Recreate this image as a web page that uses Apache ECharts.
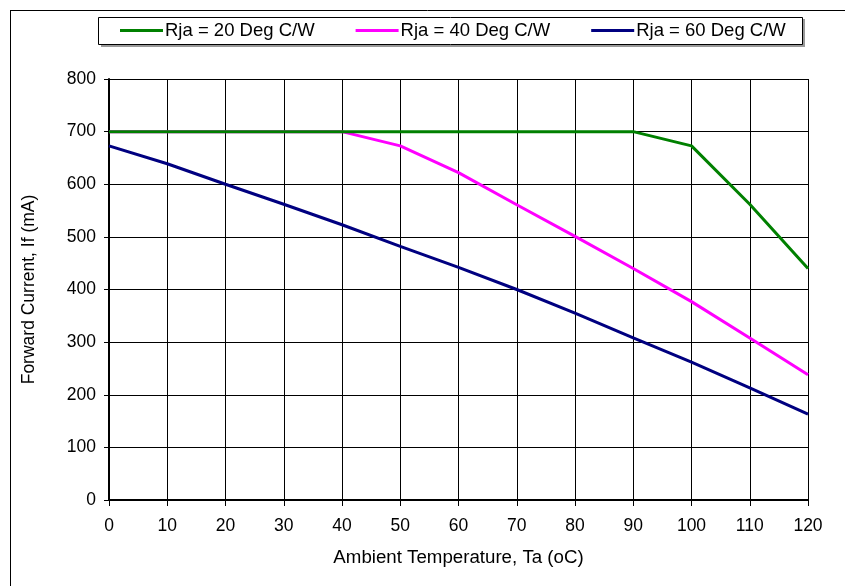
<!DOCTYPE html>
<html>
<head>
<meta charset="utf-8">
<script src="https://cdn.jsdelivr.net/npm/echarts@6/dist/echarts.min.js"></script>
<style>html,body{margin:0;padding:0;background:#fff;}#c{width:845px;height:586px;}</style>
</head>
<body>
<div id="c"></div>
<script>
const temps = [0, 10, 20, 30, 40, 50, 60, 70, 80, 90, 100, 110, 120];
const rja20 = [700, 700, 700, 700, 700, 700, 700, 700, 700, 700, 673, 562, 440];
const rja40 = [700, 700, 700, 700, 700, 673, 622, 561, 501, 440, 377, 308, 238];
const rja60 = [673, 639, 600, 562, 523, 482, 442, 400, 355, 308, 262, 213, 163];
const seriesNames = ['Rja = 20 Deg C/W', 'Rja = 40 Deg C/W', 'Rja = 60 Deg C/W'];
const seriesColors = ['#008000', '#FF00FF', '#000080'];
const seriesData = [rja20, rja40, rja60];

const chart = echarts.init(document.getElementById('c'), null, {renderer: 'canvas'});
const font = 'Liberation Sans, Arial, sans-serif';
chart.setOption({
  animation: false,
  backgroundColor: '#fff',
  textStyle: {fontFamily: font},
  graphic: [
    {type: 'line', shape: {x1: 10, y1: 10.5, x2: 845, y2: 10.5}, style: {stroke: '#000', lineWidth: 1}},
    {type: 'line', shape: {x1: 10.5, y1: 10, x2: 10.5, y2: 586}, style: {stroke: '#000', lineWidth: 1}},
    {type: 'rect', shape: {x: 101, y: 19, width: 704, height: 28}, style: {fill: '#999', stroke: null}},
    {type: 'rect', shape: {x: 98.5, y: 17.5, width: 704, height: 27}, style: {fill: '#fff', stroke: '#000', lineWidth: 1}}
  ],
  legend: {
    left: 120, top: 21, padding: 0,
    itemWidth: 43, itemHeight: 3, itemGap: 41,
    icon: 'rect',
    textStyle: {fontSize: 18.5, color: '#000', fontFamily: font, padding: [0, 0, 0, -3]},
    data: seriesNames
  },
  grid: {left: 109, right: 37, top: 79, bottom: 86, containLabel: false},
  xAxis: {
    type: 'value', min: 0, max: 120, interval: 10,
    name: 'Ambient Temperature, Ta (oC)', nameLocation: 'middle', nameGap: 48,
    nameTextStyle: {fontSize: 18.7, color: '#000', fontFamily: font},
    axisLine: {show: true, onZero: false, lineStyle: {color: '#000', width: 2}},
    axisTick: {show: true, length: 6, lineStyle: {color: '#000', width: 1}},
    axisLabel: {fontSize: 17.5, color: '#000', margin: 17, fontFamily: font},
    splitLine: {show: true, lineStyle: {color: '#000', width: 1}}
  },
  yAxis: {
    type: 'value', min: 0, max: 800, interval: 100,
    name: 'Forward Current, If (mA)', nameLocation: 'middle', nameGap: 71,
    nameTextStyle: {fontSize: 17.5, color: '#000', fontFamily: font},
    axisLine: {show: true, onZero: false, lineStyle: {color: '#000', width: 2}},
    axisTick: {show: true, length: 5, lineStyle: {color: '#000', width: 1}},
    axisLabel: {fontSize: 17.5, color: '#000', margin: 13, fontFamily: font},
    splitLine: {show: true, lineStyle: {color: '#000', width: 1}}
  },
  series: seriesNames.map((n, i) => ({
    name: n, type: 'line',
    data: temps.map((t, j) => [t, seriesData[i][j]]),
    symbol: 'none', showSymbol: false,
    lineStyle: {color: seriesColors[i], width: 3},
    itemStyle: {color: seriesColors[i]},
    z: 10 - i
  }))
});
</script>
</body>
</html>
